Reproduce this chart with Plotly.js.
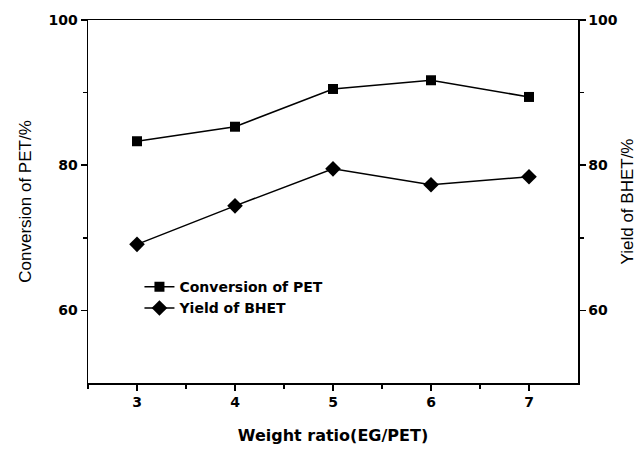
<!DOCTYPE html>
<html>
<head>
<meta charset="utf-8">
<script src="https://cdn.plot.ly/plotly-3.0.1.min.js"></script>
<style>html,body{margin:0;padding:0;background:#fff}#chart{width:637px;height:451px}</style>
</head>
<body>
<div id="chart"></div>
<script>
const weightRatio = [3, 4, 5, 6, 7];
const conversionPET = [83.3, 85.3, 90.5, 91.7, 89.4];
const yieldBHET = [69.1, 74.4, 79.5, 77.3, 78.4];
const xTickVals = [3, 4, 5, 6, 7];
const yTickVals = [60, 80, 100];

const fontFam = '"Liberation Sans", Arial, sans-serif';
const boldFam = '"DejaVu Sans", Verdana, sans-serif';

const traces = [
  {
    x: weightRatio, y: conversionPET, name: 'Conversion of PET',
    type: 'scatter', mode: 'lines+markers', yaxis: 'y',
    line: {color: '#000', width: 1.5},
    marker: {symbol: 'square', size: 10, color: '#000'}
  },
  {
    x: weightRatio, y: yieldBHET, name: 'Yield of BHET',
    type: 'scatter', mode: 'lines+markers', yaxis: 'y2',
    line: {color: '#000', width: 1.5},
    marker: {symbol: 'diamond', size: 12, color: '#000'}
  }
];

const tickFont = {family: boldFam, size: 14, color: '#000', weight: 'bold'};

const layout = {
  width: 637, height: 451,
  margin: {l: 88, r: 59, t: 20, b: 68},
  paper_bgcolor: '#fff', plot_bgcolor: '#fff',
  showlegend: true,
  legend: {
    x: 0.105, y: 0.235, xanchor: 'left', yanchor: 'middle',
    bgcolor: 'rgba(0,0,0,0)', borderwidth: 0,
    font: {family: boldFam, size: 14, color: '#000', weight: 'bold'},
    tracegroupgap: 0, itemwidth: 30
  },
  xaxis: {
    range: [2.5, 7.5], tickvals: xTickVals, ticktext: xTickVals.map(String),
    showline: true, linecolor: '#000', linewidth: 1.5, mirror: true,
    ticks: 'outside', ticklen: 6, tickwidth: 1.5, tickcolor: '#000',
    minor: {tickvals: [2.5, 3.5, 4.5, 5.5, 6.5], ticks: 'outside', ticklen: 4, tickwidth: 1.5, tickcolor: '#000'},
    showgrid: false, zeroline: false,
    tickfont: tickFont,
    title: {text: 'Weight ratio(EG/PET)', standoff: 20,
      font: {family: boldFam, size: 16, color: '#000', weight: 'bold'}}
  },
  yaxis: {
    range: [50, 100], tickvals: yTickVals, ticktext: yTickVals.map(String),
    showline: true, linecolor: '#000', linewidth: 1.5,
    ticks: 'outside', ticklen: 6, tickwidth: 1.5, tickcolor: '#000',
    minor: {tickvals: [70, 90], ticks: 'outside', ticklen: 4, tickwidth: 1.5, tickcolor: '#000'},
    showgrid: false, zeroline: false,
    tickfont: tickFont,
    title: {text: 'Conversion of PET/%', standoff: 12,
      font: {family: fontFam, size: 17, color: '#000'}}
  },
  yaxis2: {
    overlaying: 'y', side: 'right',
    range: [50, 100], tickvals: yTickVals, ticktext: yTickVals.map(String),
    showline: true, linecolor: '#000', linewidth: 1.5,
    ticks: 'outside', ticklen: 6, tickwidth: 1.5, tickcolor: '#000',
    minor: {tickvals: [70, 90], ticks: 'outside', ticklen: 4, tickwidth: 1.5, tickcolor: '#000'},
    showgrid: false, zeroline: false,
    tickfont: tickFont,
    title: {text: 'Yield of BHET/%', standoff: 6,
      font: {family: fontFam, size: 17, color: '#000'}}
  }
};

Plotly.newPlot('chart', traces, layout, {displayModeBar: false, staticPlot: true});
</script>
</body>
</html>
